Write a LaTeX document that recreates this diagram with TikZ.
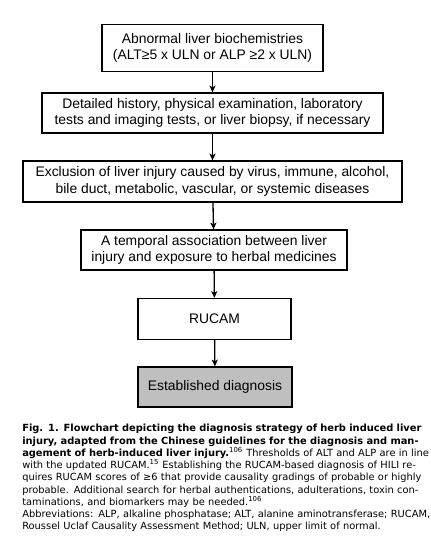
\documentclass[tikz,border=0pt]{standalone}
\usepackage{fontspec}
\setmainfont{Liberation Sans}
\newfontfamily\capfont{DejaVu Sans}
\usepackage{tikz}
\usetikzlibrary{arrows.meta, positioning}

\tikzset{
  stepbox/.style={draw, line width=1pt, align=center, inner sep=0pt,
    font=\fontsize{10.4}{12.2}\selectfont},
  arr/.style={line width=1pt, -{Stealth[length=5pt, width=4.5pt, inset=1.2pt]}}
}
\newcommand{\capline}[1]{\makebox[288.75pt][s]{#1}\\}

\begin{document}
\begin{tikzpicture}[x=0.75pt, y=-0.75pt]
                \useasboundingbox (0,0) rectangle (431,540);
                % Flowchart boxes
                \node[stepbox, minimum width=165.75pt, minimum height=35.25pt] (abnormal) at (212.5,48)
                  {Abnormal liver biochemistries\\(ALT≥5 x ULN or ALP ≥2 x ULN)};
                \node[stepbox, minimum width=255.75pt, minimum height=30pt] (history) at (212.5,113)
                  {Detailed history, physical examination, laboratory\\tests and imaging tests, or liver biopsy, if necessary};
                \node[stepbox, minimum width=284.25pt, minimum height=30.75pt] (exclusion) at (212.5,181.5)
                  {Exclusion of liver injury caused by virus, immune, alcohol,\\bile duct, metabolic, vascular, or systemic diseases};
                \node[stepbox, minimum width=199.5pt, minimum height=30pt] (temporal) at (214,250)
                  {A temporal association between liver\\injury and exposure to herbal medicines};
                \node[stepbox, minimum width=114.75pt, minimum height=30.75pt] (rucam) at (214.5,319)
                  {RUCAM};
                \node[stepbox, fill=black!25, minimum width=115.5pt, minimum height=30pt] (diagnosis) at (215,387)
                  {Established diagnosis};

                % Arrows
                \draw[arr] (abnormal) -- (history);
                \draw[arr] (history) -- (exclusion);
                \draw[arr] (exclusion) -- (temporal);
                \draw[arr] (temporal) -- (rucam);
                \draw[arr] (rucam) -- (diagnosis);

                % Caption
                \node[anchor=north west, inner sep=0pt, text width=288.75pt, align=left,
                  font=\capfont\fontsize{7.4}{9.2}\selectfont] (caption) at (22,424) {%
                  \capline{\bfseries Fig. 1. Flowchart depicting the diagnosis strategy of herb induced liver}
                  \capline{\bfseries injury, adapted from the Chinese guidelines for the diagnosis and man-}
                  \capline{{\bfseries agement of herb-induced liver injury.}\textsuperscript{106} Thresholds of ALT and ALP are in line}
                  \capline{with the updated RUCAM.\textsuperscript{15} Establishing the RUCAM-based diagnosis of HILI re-}
                  \capline{quires RUCAM scores of ≥6 that provide causality gradings of probable or highly}
                  \capline{probable. Additional search for herbal authentications, adulterations, toxin con-}
                  taminations, and biomarkers may be needed.\textsuperscript{106}\\
                  \capline{Abbreviations: ALP, alkaline phosphatase; ALT, alanine aminotransferase; RUCAM,}
                  Roussel Uclaf Causality Assessment Method; ULN, upper limit of normal.};
            \end{tikzpicture}
\end{document}
